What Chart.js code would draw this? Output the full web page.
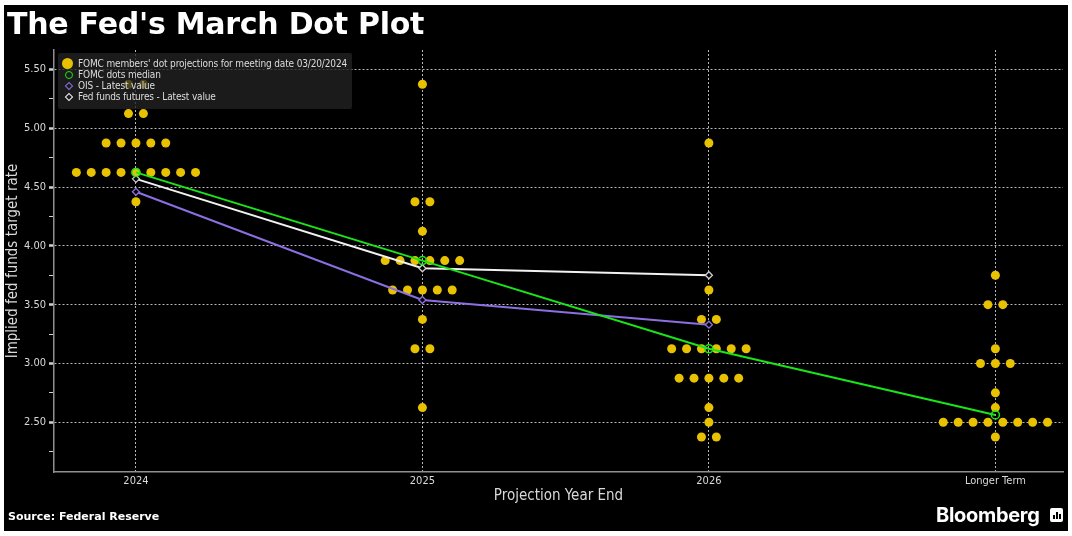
<!DOCTYPE html>
<html>
<head>
<meta charset="utf-8">
<title>The Fed's March Dot Plot</title>
<script src="https://cdn.jsdelivr.net/npm/chart.js@4.4.1/dist/chart.umd.min.js"></script>
<style>
    html, body { margin: 0; padding: 0; background: #fff; }
    body { width: 1072px; height: 536px; position: relative; overflow: hidden; }
    #frame { position: absolute; left: 4px; top: 5px; width: 1064px; height: 526px; background: #000; }
    #chart { position: absolute; left: 0; top: 0; }
    #title {
        position: absolute; left: 7px; top: 6px; color: #fff;
        font: bold 30px "DejaVu Sans", sans-serif; letter-spacing: -0.25px; white-space: nowrap;
    }
    #legend {
        position: absolute; left: 58px; top: 53px; width: 294px; height: 56px;
        background: rgba(34, 34, 34, 0.78); border-radius: 2px;
    }
    #legend .item {
        position: absolute; left: 20px; height: 11px; line-height: 11px; white-space: nowrap;
        color: #dcdcdc; font: 10px "DejaVu Sans Condensed", "Liberation Sans Narrow", "DejaVu Sans", sans-serif;
        letter-spacing: -0.15px;
    }
    #legend .sym { position: absolute; box-sizing: border-box; }
    .sym.dot { left: -16px; top: 0px; width: 11px; height: 11px; border-radius: 50%; background: #e8c200; }
    .sym.ring { left: -13px; top: 2px; width: 8px; height: 8px; border-radius: 50%; border: 1.6px solid #19e619; }
    .sym.dia { left: -12px; top: 3px; width: 6px; height: 6px; transform: rotate(45deg); border: 1.3px solid; }
    #source {
        position: absolute; left: 8px; top: 510px; color: #fff;
        font: bold 11px "DejaVu Sans", sans-serif;
    }
    #brand {
        position: absolute; left: 936px; top: 503px; color: #fff;
        font: 700 20px Inter, "Open Sans", sans-serif; letter-spacing: -0.3px;
    }
    #brand-icon {
        position: absolute; left: 1050px; top: 508px; width: 13px; height: 14px;
        background: #fff; border-radius: 2px;
    }
    #brand-icon i { position: absolute; bottom: 3px; width: 2px; background: #000; }
</style>
</head>
<body>
<div id="frame"></div>
<canvas id="chart" width="1072" height="536"></canvas>
<div id="title">The Fed's March Dot Plot</div>
<div id="legend">
    <div class="item" style="top:5px"><span class="sym dot"></span>FOMC members' dot projections for meeting date 03/20/2024</div>
    <div class="item" style="top:16px"><span class="sym ring"></span>FOMC dots median</div>
    <div class="item" style="top:27px"><span class="sym dia" style="border-color:#8c6fe0"></span>OIS - Latest value</div>
    <div class="item" style="top:38px"><span class="sym dia" style="border-color:#f2f2f2"></span>Fed funds futures - Latest value</div>
</div>
<div id="source">Source: Federal Reserve</div>
<div id="brand">Bloomberg</div>
<div id="brand-icon"><i style="left:3px;height:4px"></i><i style="left:6px;height:7px"></i><i style="left:9px;height:5px"></i></div>

<script>
// ---- data ----
const years = ['2024', '2025', '2026', 'Longer Term'];

const dotRates2024 = [5.375, 5.125, 4.875, 4.625, 4.375];
const dotCounts2024 = [2, 2, 5, 9, 1];
const dotRates2025 = [5.375, 4.375, 4.125, 3.875, 3.625, 3.375, 3.125, 2.625];
const dotCounts2025 = [1, 2, 1, 6, 5, 1, 2, 1];
const dotRates2026 = [4.875, 3.625, 3.375, 3.125, 2.875, 2.625, 2.5, 2.375];
const dotCounts2026 = [1, 1, 2, 6, 5, 1, 1, 2];
const dotRatesLonger = [3.75, 3.5, 3.125, 3.0, 2.75, 2.625, 2.5, 2.375];
const dotCountsLonger = [1, 2, 1, 3, 1, 1, 8, 1];

const medians = [4.625, 3.875, 3.125, 2.5625];
const oisLatest = [4.46, 3.54, 3.33];
const futuresLatest = [4.57, 3.81, 3.75];

const yTicks = [2.25, 2.5, 2.75, 3.0, 3.25, 3.5, 3.75, 4.0, 4.25, 4.5, 4.75, 5.0, 5.25, 5.5];

// ---- build the scatter points (dots spread sideways around each year) ----
const dotRates = [dotRates2024, dotRates2025, dotRates2026, dotRatesLonger];
const dotCounts = [dotCounts2024, dotCounts2025, dotCounts2026, dotCountsLonger];
const dotStep = 0.052;
const dotPoints = [];
dotRates.forEach((rates, yi) => {
    rates.forEach((rate, ri) => {
        const n = dotCounts[yi][ri];
        for (let k = 0; k < n; k++) {
            dotPoints.push({ x: yi + (k - (n - 1) / 2) * dotStep, y: rate });
        }
    });
});
const toXY = arr => arr.map((v, i) => ({ x: i, y: v }));

const isMajor = v => Math.abs(v * 2 - Math.round(v * 2)) < 1e-6;
const condensed = "'DejaVu Sans Condensed', 'Liberation Sans Narrow', 'DejaVu Sans', sans-serif";
const gridCol = 'rgba(215,215,215,0.85)';

new Chart(document.getElementById('chart'), {
    type: 'scatter',
    data: {
        datasets: [
            {
                label: "FOMC members' dot projections for meeting date 03/20/2024",
                data: dotPoints,
                pointRadius: 4.5,
                pointBackgroundColor: '#e8c200',
                pointBorderWidth: 0,
                order: 4
            },
            {
                label: 'FOMC dots median',
                data: toXY(medians),
                showLine: true,
                borderColor: '#19e619',
                borderWidth: 2,
                pointRadius: 4,
                pointBorderWidth: 1.5,
                pointBackgroundColor: 'rgba(0,0,0,0)',
                pointBorderColor: '#19e619',
                order: 1
            },
            {
                label: 'OIS - Latest value',
                data: toXY(oisLatest),
                showLine: true,
                borderColor: '#8c6fe0',
                borderWidth: 2,
                pointStyle: 'rectRot',
                pointRadius: 3.5,
                pointBorderWidth: 1.3,
                pointBackgroundColor: '#000',
                pointBorderColor: '#8c6fe0',
                order: 2
            },
            {
                label: 'Fed funds futures - Latest value',
                data: toXY(futuresLatest),
                showLine: true,
                borderColor: '#f2f2f2',
                borderWidth: 2,
                pointStyle: 'rectRot',
                pointRadius: 3.5,
                pointBorderWidth: 1.3,
                pointBackgroundColor: '#000',
                pointBorderColor: '#cfcfcf',
                order: 3
            }
        ]
    },
    options: {
        responsive: false,
        animation: false,
        layout: { padding: { top: 50, right: 9, left: 0, bottom: 0 } },
        plugins: { legend: { display: false }, tooltip: { enabled: false } },
        scales: {
            x: {
                type: 'linear',
                min: -0.286,
                max: 3.236,
                afterBuildTicks: s => { s.ticks = years.map((_, i) => ({ value: i })); },
                afterFit: s => { s.height = 64; },
                border: { color: '#8f8f8f', width: 1.5, dash: [2, 2] },
                grid: { color: gridCol, lineWidth: 1, drawTicks: false },
                ticks: {
                    color: '#d9d9d9', padding: 3, autoSkip: false, maxRotation: 0,
                    font: { family: condensed, size: 11 },
                    callback: v => years[Math.round(v)]
                },
                title: {
                    display: true, text: 'Projection Year End', color: '#d9d9d9',
                    font: { family: condensed, size: 15 }, padding: { top: 0, bottom: 31 }
                }
            },
            y: {
                min: 2.077,
                max: 5.666,
                afterBuildTicks: s => { s.ticks = yTicks.map(v => ({ value: v })); },
                afterFit: s => { s.width = 54; },
                border: { color: '#8f8f8f', width: 1.5, dash: [2, 2] },
                grid: {
                    color: c => isMajor(c.tick.value) ? gridCol : 'rgba(0,0,0,0)',
                    lineWidth: 1,
                    tickLength: 5,
                    tickColor: '#d0d0d0',
                    tickWidth: c => isMajor(c.tick.value) ? 2.5 : 1
                },
                ticks: {
                    color: '#d9d9d9', padding: 3, autoSkip: false,
                    font: { family: condensed, size: 11 },
                    callback: v => isMajor(v) ? v.toFixed(2) : ''
                },
                title: {
                    display: true, text: 'Implied fed funds target rate', color: '#d9d9d9',
                    font: { family: condensed, size: 15 }, padding: { top: 4, bottom: 0 }
                }
            }
        }
    }
});
</script>
</body>
</html>
